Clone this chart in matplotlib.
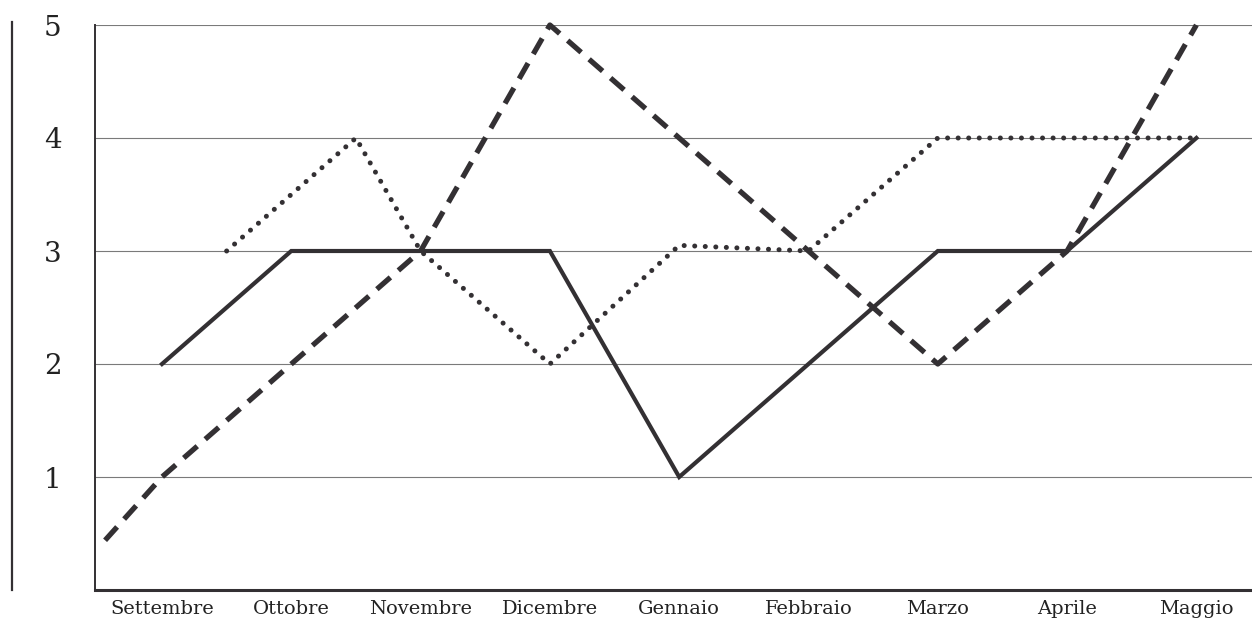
import numpy as np
import matplotlib.pyplot as plt
from matplotlib.lines import Line2D

# dati
mesi = ['Settembre', 'Ottobre', 'Novembre', 'Dicembre', 'Gennaio',
        'Febbraio', 'Marzo', 'Aprile', 'Maggio']
continua = [2, 3, 3, 3, 1, 2, 3, 3, 4]
tratteggio_x = [-0.44, 0, 1, 2, 3, 4, 5, 6, 7, 8]
tratteggio = [0.44, 1, 2, 3, 5, 4, 3, 2, 3, 5]
punti_x = [0.5, 1.5, 2, 3, 4, 5, 6, 7, 8]
punti = [3, 4, 3, 2, 3.05, 3, 4, 4, 4]
y_ticks = [1, 2, 3, 4, 5]

colore = '#333033'

fig = plt.figure(figsize=(12.52, 6.25), dpi=100)
ax = fig.add_axes([95 / 1252, 35 / 625, 1 - 95 / 1252, 565 / 625])

for y in y_ticks:
    ax.axhline(y, color='#7a7a7a', lw=0.8, zorder=1)

x = np.arange(len(mesi))
ax.plot(x, continua, color=colore, lw=3.0, solid_joinstyle='miter', zorder=3)
ax.plot(tratteggio_x, tratteggio, color=colore, lw=3.8, dashes=(3.4, 2.0),
        zorder=3, clip_on=False)
ax.plot(punti_x, punti, color=colore, lw=3.6, dashes=(0.01, 2.1),
        dash_capstyle='round', zorder=3)

ax.set_xlim(-0.518, 8.43)
ax.set_ylim(0, 5)
ax.set_xticks(x)
ax.set_xticklabels(mesi, fontsize=14, family='DejaVu Serif', color='#222222')
ax.set_yticks(y_ticks)
ax.set_yticklabels([str(v) for v in y_ticks], fontsize=20,
                   family='DejaVu Serif', color='#222222')
ax.tick_params(axis='both', length=0)
ax.tick_params(axis='y', pad=24)
ax.tick_params(axis='x', pad=7)

for lato in ['top', 'right']:
    ax.spines[lato].set_visible(False)
ax.spines['left'].set_linewidth(1.4)
ax.spines['left'].set_color(colore)
ax.spines['bottom'].set_linewidth(2.2)
ax.spines['bottom'].set_color(colore)

# linea verticale sul margine sinistro
fig.add_artist(Line2D([12 / 1252, 12 / 1252], [1 - 22 / 625, 1 - 590 / 625],
                      color=colore, lw=1.6))

fig.savefig('out.png', dpi=100)
